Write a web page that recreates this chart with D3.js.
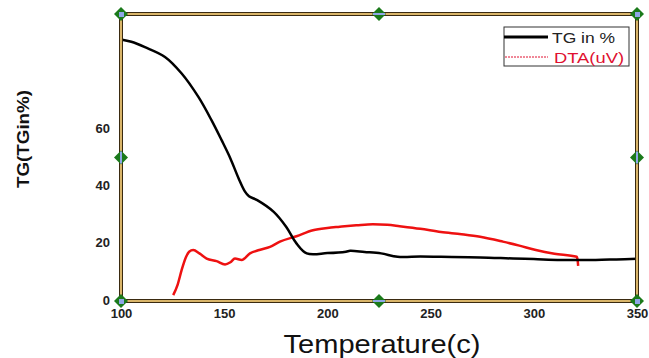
<!DOCTYPE html>
<html>
<head>
<meta charset="UTF-8">
<script src="https://d3js.org/d3.v7.min.js"></script>
<style>
body { margin: 0; background: #fff; }
.tick text { font: bold 13px "Liberation Sans", Arial, sans-serif; fill: #222; }
</style>
</head>
<body>
<svg width="649" height="358"></svg>
<script>
// TG curve (temperature, %)
var tgTemp = [100, 105, 111.6, 121.3, 129.4, 137.5, 143.9, 148.8, 153, 157, 160, 162, 166, 174, 180, 185, 190, 200, 209, 211, 218, 226, 234, 245, 255, 274, 290, 300, 313, 330, 340, 350];
var tgVal  = [91.1, 90.3, 88.4, 85.0, 79.2, 71.0, 62.8, 55.8, 49.5, 42.5, 38.0, 36.3, 34.9, 30.8, 25.6, 19.8, 16.3, 16.4, 16.9, 17.2, 16.8, 16.3, 15.1, 15.2, 15.1, 14.9, 14.5, 14.3, 14.0, 14.0, 14.2, 14.4];
// DTA curve (temperature, uV)
var dtaTemp = [125.3, 127.5, 129.4, 131.5, 133, 135, 138, 141.5, 146.3, 150.4, 153, 155.2, 158.5, 162.5, 167, 172.2, 177, 185, 193, 200, 206, 214, 222, 229, 235, 245, 255, 265, 274, 285, 293, 301, 310, 320.8, 321.3, 321.5];
var dtaVal  = [1.7, 5.5, 10.5, 15, 16.9, 17.5, 16.3, 14.5, 13.6, 12.4, 13.2, 14.5, 14.0, 16.3, 17.5, 18.6, 20.4, 22.3, 24.4, 25.2, 25.6, 26.1, 26.5, 26.3, 25.8, 24.9, 23.8, 23.0, 22.1, 20.4, 19.0, 17.5, 16.2, 15.1, 13.5, 11.9];
var xTicks = [100, 150, 200, 250, 300, 350];
var yTicks = [0, 20, 40, 60];

var svg = d3.select("svg");
var pLeft = 121, pRight = 637, pTop = 14, pBottom = 300;

var x = d3.scaleLinear().domain([100, 350]).range([pLeft, pRight]);
var y = d3.scaleLinear().domain([0, 100]).range([pBottom, pTop]);

// axes (no lines, just labels)
var xAxis = svg.append("g")
  .attr("transform", "translate(0," + (pBottom + 4) + ")")
  .call(d3.axisBottom(x).tickValues(xTicks).tickSize(0).tickPadding(5));
xAxis.select(".domain").remove();

var yAxis = svg.append("g")
  .attr("transform", "translate(" + (pLeft - 8) + ",0)")
  .call(d3.axisLeft(y).tickValues(yTicks).tickSize(0).tickPadding(3));
yAxis.select(".domain").remove();

var tgData = tgTemp.map(function(t, i) { return [t, tgVal[i]]; });
var dtaData = dtaTemp.map(function(t, i) { return [t, dtaVal[i]]; });

var line = d3.line()
  .x(function(d) { return x(d[0]); })
  .y(function(d) { return y(d[1]); })
  .curve(d3.curveMonotoneX);

var smooth = d3.line()
  .x(function(d) { return x(d[0]); })
  .y(function(d) { return y(d[1]); })
  .curve(d3.curveCatmullRom.alpha(0.5));

svg.append("path").datum(dtaData)
  .attr("d", line).attr("fill", "none")
  .attr("stroke", "#ee1111").attr("stroke-width", 2.5);

svg.append("path").datum(tgData)
  .attr("d", smooth).attr("fill", "none")
  .attr("stroke", "#000").attr("stroke-width", 2.5);

// frame: dark outline with tan core
var fb = pBottom + 1;
svg.append("rect").attr("x", pLeft).attr("y", pTop).attr("width", pRight - pLeft).attr("height", fb - pTop)
  .attr("fill", "none").attr("stroke", "#3a2a10").attr("stroke-width", 4);
svg.append("rect").attr("x", pLeft).attr("y", pTop).attr("width", pRight - pLeft).attr("height", fb - pTop)
  .attr("fill", "none").attr("stroke", "#d9b56a").attr("stroke-width", 2);

// selection handles
var mx = (pLeft + pRight) / 2, my = (pTop + fb) / 2;
var handles = [
  [pLeft, pTop, "c"], [mx, pTop, "h"], [pRight, pTop, "c"],
  [pLeft, my, "v"], [pRight, my, "v"],
  [pLeft, fb, "c"], [mx, fb, "h"], [pRight, fb, "c"]
];
handles.forEach(function(h) {
  var g = svg.append("g").attr("transform", "translate(" + h[0] + "," + h[1] + ")");
  g.append("path").attr("d", "M0,-7L7,0L0,7L-7,0Z").attr("fill", "#1b7a1b");
  if (h[2] === "h") {
    g.append("line").attr("x1", -6).attr("x2", 6).attr("y1", 0).attr("y2", 0)
      .attr("stroke", "#8fa6e6").attr("stroke-width", 2);
  } else if (h[2] === "v") {
    g.append("line").attr("y1", -6).attr("y2", 6).attr("x1", 0).attr("x2", 0)
      .attr("stroke", "#8fa6e6").attr("stroke-width", 2);
  } else {
    g.append("rect").attr("x", -2).attr("y", -2).attr("width", 5).attr("height", 5)
      .attr("fill", "#8fa6e6");
  }
});

// legend
var lg = svg.append("g").attr("transform", "translate(504,27)");
lg.append("rect").attr("width", 125).attr("height", 39)
  .attr("fill", "#fff").attr("stroke", "#333").attr("stroke-width", 1);
lg.append("line").attr("x1", 0).attr("x2", 44).attr("y1", 10).attr("y2", 10)
  .attr("stroke", "#000").attr("stroke-width", 3);
lg.append("text").attr("x", 48).attr("y", 16).text("TG in %")
  .attr("textLength", 63).attr("lengthAdjust", "spacingAndGlyphs")
  .style("font", "15px 'Liberation Sans', Arial, sans-serif").attr("fill", "#222");
lg.append("line").attr("x1", 1).attr("x2", 44).attr("y1", 30).attr("y2", 30)
  .attr("stroke", "#e01030").attr("stroke-width", 1).attr("stroke-dasharray", "2,1");
lg.append("text").attr("x", 50).attr("y", 36).text("DTA(uV)")
  .attr("textLength", 70).attr("lengthAdjust", "spacingAndGlyphs")
  .style("font", "15px 'Liberation Sans', Arial, sans-serif").attr("fill", "#e01030");

// axis titles
svg.append("text").attr("x", 382).attr("y", 353).attr("text-anchor", "middle")
  .attr("textLength", 197).attr("lengthAdjust", "spacingAndGlyphs")
  .style("font", "25px 'Liberation Sans', Arial, sans-serif").attr("fill", "#111")
  .text("Temperature(c)");
svg.append("text").attr("transform", "translate(29,139) rotate(-90)").attr("text-anchor", "middle")
  .attr("textLength", 98).attr("lengthAdjust", "spacingAndGlyphs")
  .style("font", "bold 17px 'Liberation Sans', Arial, sans-serif").attr("fill", "#111")
  .text("TG(TGin%)");
</script>
</body>
</html>
